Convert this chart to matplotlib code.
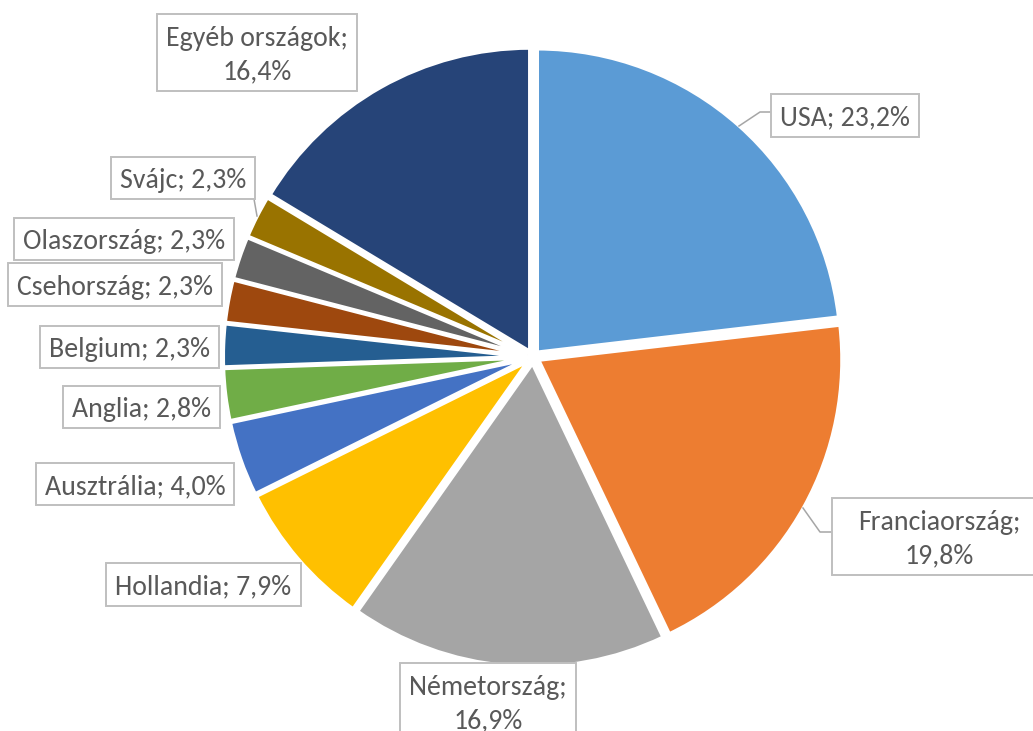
import matplotlib
matplotlib.use("Agg")
import matplotlib.pyplot as plt
from matplotlib import font_manager
from matplotlib.patches import Rectangle

# ---------------- data ----------------
categories = ["USA", "Franciaország", "Németország", "Hollandia", "Ausztrália",
              "Anglia", "Belgium", "Csehország", "Olaszország", "Svájc",
              "Egyéb országok"]
shares = [23.2, 19.8, 16.9, 7.9, 4.0, 2.8, 2.3, 2.3, 2.3, 2.3, 16.4]
colors = ["#5B9BD5", "#ED7D31", "#A5A5A5", "#FFC000", "#4472C4", "#70AD47",
          "#255E91", "#9E480E", "#636363", "#997300", "#264478"]
two_line = [False, True, True, False, False, False, False, False, False, False, True]

# ---------------- layout (pixel coords, origin top-left) ----------------
W, H = 1033, 731
CX, CY, R = 533, 357, 304
EXPLODE_PX = 6
label_boxes = [
    (771, 94, 919, 137),
    (832, 498, 1046, 575),
    (400, 663, 576, 740),
    (106, 563, 301, 606),
    (36, 463, 234, 505),
    (63, 386, 220, 428),
    (40, 326, 219, 368),
    (8, 263, 222, 306),
    (14, 218, 234, 260),
    (111, 157, 255, 199),
    (157, 14, 357, 91),
]
leaders = {
    0: [(771, 112), (760, 112), (739, 126)],
    1: [(832, 532), (820, 532), (803, 508)],
    9: [(254, 199), (257, 216)],
}

# pick a Calibri-like font
family = "DejaVu Sans"
for cand in ["Carlito", "Lato", "Open Sans", "Roboto"]:
    try:
        font_manager.findfont(cand, fallback_to_default=False)
        family = cand
        break
    except Exception:
        pass
plt.rcParams["font.family"] = [family, "DejaVu Sans"]

fig = plt.figure(figsize=(W / 100, H / 100), dpi=100)
ax = fig.add_axes([0, 0, 1, 1])

# matplotlib's explode is in data units (not scaled by radius)
ax.pie(shares, colors=colors, startangle=90, counterclock=False,
       explode=[EXPLODE_PX] * len(shares), radius=R, center=(CX, H - CY),
       wedgeprops=dict(edgecolor="white", linewidth=2.9))
ax.set_xlim(0, W)
ax.set_ylim(0, H)
ax.set_aspect("equal")
ax.axis("off")

# fit font size so that the reference width of "Németország;" is ~157 px
renderer = fig.canvas.get_renderer()
probe = ax.text(0, 0, "Németország;", fontsize=20)
wpx = probe.get_window_extent(renderer).width
probe.remove()
fs = 20 * 157 / wpx

def fmt(v):
    return f"{v:.1f}".replace(".", ",") + "%"

txt_color = "#595959"
for i, (name, v) in enumerate(zip(categories, shares)):
    x0, y0, x1, y1 = label_boxes[i]
    ax.add_patch(Rectangle((x0, H - y1), x1 - x0, y1 - y0, facecolor="white",
                           edgecolor="#BFBFBF", linewidth=1.4, zorder=5))
    xc = (x0 + x1) / 2
    yc = (y0 + y1) / 2
    if two_line[i]:
        ax.text(xc, H - (yc - 6.5), f"{name};", ha="center", va="baseline",
                fontsize=fs, color=txt_color, zorder=6)
        ax.text(xc, H - (yc + 26.5), fmt(v), ha="center", va="baseline",
                fontsize=fs, color=txt_color, zorder=6)
    else:
        ax.text(xc, H - (yc + 10), f"{name}; {fmt(v)}", ha="center", va="baseline",
                fontsize=fs, color=txt_color, zorder=6)

for i, pts in leaders.items():
    xs = [p[0] for p in pts]
    ys = [H - p[1] for p in pts]
    ax.plot(xs, ys, color="#A6A6A6", linewidth=1.1, zorder=4)

fig.savefig("out.png", dpi=100)
